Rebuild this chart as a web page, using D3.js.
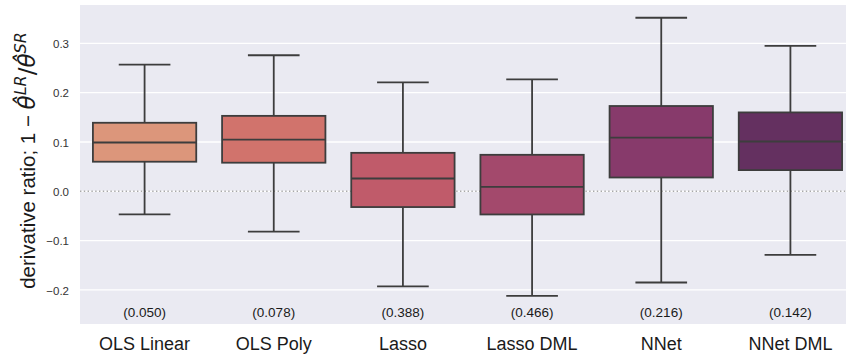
<!DOCTYPE html>
<html>
<head>
<meta charset="utf-8">
<script src="https://cdn.jsdelivr.net/npm/d3@7"></script>
<style>
  html, body { margin: 0; padding: 0; background: #ffffff; }
  svg { display: block; }
</style>
</head>
<body>
<svg id="chart" width="846" height="358"></svg>
<script>
// Estimators compared
const categories = ["OLS Linear", "OLS Poly", "Lasso", "Lasso DML", "NNet", "NNet DML"];
// Box summaries of the derivative ratio for each estimator
const whiskerLow  = [-0.047, -0.082, -0.193, -0.212, -0.185, -0.129];
const q1          = [ 0.060,  0.058, -0.032, -0.047,  0.028,  0.043];
const median      = [ 0.099,  0.105,  0.026,  0.009,  0.109,  0.101];
const q3          = [ 0.139,  0.153,  0.078,  0.074,  0.173,  0.160];
const whiskerHigh = [ 0.257,  0.276,  0.221,  0.227,  0.352,  0.295];
// Values printed under each box
const noteLabels  = ["(0.050)", "(0.078)", "(0.388)", "(0.466)", "(0.216)", "(0.142)"];
// Tick values on the y axis
const yTicks      = [-0.2, -0.1, 0.0, 0.1, 0.2, 0.3];
// Fill colours, light to dark
const boxColors   = ["#dc967b", "#d1736c", "#c05b6a", "#a3496c", "#873a6b", "#643060"];

const svg = d3.select("#chart");
const sans = "'Liberation Sans', Arial, Helvetica, sans-serif";

const x = d3.scaleBand().domain(categories).range([80, 855]).paddingInner(0).paddingOuter(0);
const y = d3.scaleLinear().domain([-0.2692, 0.3779]).range([324, 5]);

const rows = categories.map((c, i) => ({
  cat: c, lo: whiskerLow[i], q1: q1[i], med: median[i], q3: q3[i], hi: whiskerHigh[i],
  note: noteLabels[i], color: boxColors[i]
}));

// Plot background
svg.append("rect")
  .attr("x", x.range()[0]).attr("y", y.range()[1])
  .attr("width", x.range()[1] - x.range()[0])
  .attr("height", y.range()[0] - y.range()[1])
  .attr("fill", "#eaeaf2");

// Horizontal grid
svg.append("g").selectAll("line").data(yTicks).join("line")
  .attr("x1", x.range()[0]).attr("x2", x.range()[1])
  .attr("y1", d => y(d)).attr("y2", d => y(d))
  .attr("stroke", "#ffffff").attr("stroke-width", 1.3);

// Y axis tick labels
const yAxis = d3.axisLeft(y).tickValues(yTicks).tickSize(0).tickPadding(0)
  .tickFormat(d => d3.format(".1f")(d).replace("-", "\u2212"));
const gy = svg.append("g").attr("transform", "translate(69,0)").call(yAxis);
gy.select(".domain").remove();
gy.selectAll("text")
  .attr("font-family", sans).attr("font-size", 11.5).attr("fill", "#333333")
  .attr("dy", "0.36em");

// X axis category labels
const xAxis = d3.axisBottom(x).tickSize(0).tickPadding(0);
const gx = svg.append("g").attr("transform", "translate(0,350)").call(xAxis);
gx.select(".domain").remove();
gx.selectAll("text")
  .attr("font-family", sans).attr("font-size", 18).attr("fill", "#1a1a1a")
  .attr("dy", 0);

// Reference line at zero
svg.append("line")
  .attr("x1", x.range()[0]).attr("x2", x.range()[1])
  .attr("y1", y(0)).attr("y2", y(0))
  .attr("stroke", "#a8a8a8").attr("stroke-width", 1.4)
  .attr("stroke-dasharray", "1.4,2.4");

// Boxes and whiskers
const edge = "#3d3d3d";
const bw = x.bandwidth() * 0.8;
const cw = bw / 2;
const g = svg.append("g").selectAll("g").data(rows).join("g")
  .attr("transform", d => `translate(${x(d.cat) + x.bandwidth() / 2},0)`);

g.append("line").attr("x1", 0).attr("x2", 0)
  .attr("y1", d => y(d.hi)).attr("y2", d => y(d.q3))
  .attr("stroke", edge).attr("stroke-width", 1.8);
g.append("line").attr("x1", 0).attr("x2", 0)
  .attr("y1", d => y(d.q1)).attr("y2", d => y(d.lo))
  .attr("stroke", edge).attr("stroke-width", 1.8);
g.append("line").attr("x1", -cw / 2).attr("x2", cw / 2)
  .attr("y1", d => y(d.hi)).attr("y2", d => y(d.hi))
  .attr("stroke", edge).attr("stroke-width", 1.8);
g.append("line").attr("x1", -cw / 2).attr("x2", cw / 2)
  .attr("y1", d => y(d.lo)).attr("y2", d => y(d.lo))
  .attr("stroke", edge).attr("stroke-width", 1.8);
g.append("rect")
  .attr("x", -bw / 2).attr("width", bw)
  .attr("y", d => y(d.q3)).attr("height", d => y(d.q1) - y(d.q3))
  .attr("fill", d => d.color).attr("stroke", edge).attr("stroke-width", 1.8);
g.append("line").attr("x1", -bw / 2).attr("x2", bw / 2)
  .attr("y1", d => y(d.med)).attr("y2", d => y(d.med))
  .attr("stroke", edge).attr("stroke-width", 1.8);

// Values printed under each box
g.append("text")
  .attr("x", 0).attr("y", 317)
  .attr("text-anchor", "middle")
  .attr("font-family", sans).attr("font-size", 13.5).attr("fill", "#1a1a1a")
  .text(d => d.note);

// Y axis title with math
const ylab = svg.append("text")
  .attr("transform", "translate(35,160.5) rotate(-90)")
  .attr("text-anchor", "middle")
  .attr("font-family", sans).attr("font-size", 20.5).attr("fill", "#1a1a1a");
ylab.append("tspan").text("derivative ratio; 1 \u2212 ");
const mathFont = "'DejaVu Sans', sans-serif";
ylab.append("tspan").attr("font-family", mathFont).attr("font-style", "italic")
  .attr("font-size", 23).text("\u03B8\u0302");
ylab.append("tspan").attr("font-family", mathFont).attr("font-style", "italic")
  .attr("font-size", 16).attr("dy", -9).text("LR");
ylab.append("tspan").attr("font-family", mathFont).attr("font-size", 23)
  .attr("dy", 9).text("/");
ylab.append("tspan").attr("font-family", mathFont).attr("font-style", "italic")
  .attr("font-size", 23).text("\u03B8\u0302");
ylab.append("tspan").attr("font-family", mathFont).attr("font-style", "italic")
  .attr("font-size", 16).attr("dy", -9).text("SR");
</script>
</body>
</html>
